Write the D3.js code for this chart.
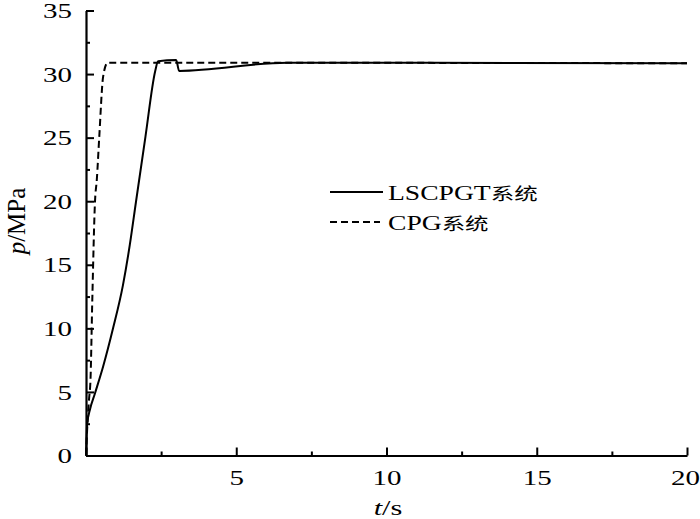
<!DOCTYPE html>
<html>
<head>
<meta charset="utf-8">
<script src="https://cdn.jsdelivr.net/npm/d3@7"></script>
<style>
  html, body { margin: 0; padding: 0; background: #fff; }
  svg { display: block; }
  text { font-family: "Liberation Serif", "Times New Roman", serif; fill: #000; }
</style>
</head>
<body>
<svg id="chart" width="700" height="519"></svg>
<script>
// ---- data ----
const lscpgtT = [0, 0.04, 0.13, 0.3, 0.57, 0.9, 1.23, 1.46, 1.66, 1.98, 2.3, 2.4, 3.0, 3.1, 6.7, 20];
const lscpgtP = [0, 2.5, 3.6, 4.9, 7.0, 10.0, 13.4, 16.6, 19.9, 25.1, 30.2, 31.0, 31.1, 30.25, 30.9, 30.85];
const cpgT = [0, 0.05, 0.1, 0.15, 0.21, 0.3, 0.36, 0.44, 0.57, 0.72, 20];
const cpgP = [0, 2.6, 4.4, 6.0, 12.3, 20.0, 21.7, 25.0, 29.8, 30.9, 30.85];
const xMajorTicks = [0, 5, 10, 15, 20];
const xMinorTicks = [2.5, 7.5, 12.5, 17.5];
const yMajorTicks = [0, 5, 10, 15, 20, 25, 30, 35];
const yMinorTicks = [2.5, 7.5, 12.5, 17.5, 22.5, 27.5, 32.5];
const seriesNames = ["LSCPGT", "CPG"];
const cjkSuffix = "系统";
const xTitle = ["t", "/s"];
const yTitle = ["p", "/MPa"];

// ---- drawing ----
const svg = d3.select("#chart");
svg.append("rect").attr("width", 700).attr("height", 519).attr("fill", "#fff");

const x = d3.scaleLinear().domain([0, 20]).range([86, 687]);
const y = d3.scaleLinear().domain([0, 35]).range([455.5, 10.5]);
const SX = 1.38;

// lines
const smoothLine = d3.line().x(d => x(d[0])).y(d => y(d[1])).curve(d3.curveMonotoneX);
const solidData = lscpgtT.map((t, i) => [t, lscpgtP[i]]);
const dashData = cpgT.map((t, i) => [t, cpgP[i]]);

svg.append("path").datum(dashData).attr("d", smoothLine)
  .attr("fill", "none").attr("stroke", "#000").attr("stroke-width", 2)
  .attr("stroke-dasharray", "7,4").attr("stroke-linejoin", "round");
svg.append("path").datum(solidData).attr("d", smoothLine)
  .attr("fill", "none").attr("stroke", "#000").attr("stroke-width", 2)
  .attr("stroke-linejoin", "round");

// axes
function styleAxis(g) {
  g.selectAll("path.domain").attr("stroke", "#000").attr("stroke-width", 2.2);
  g.selectAll(".tick line").attr("stroke", "#000").attr("stroke-width", 2);
}

const xAxisG = svg.append("g").attr("transform", `translate(0,${y(0)})`)
  .call(d3.axisBottom(x).tickValues(xMajorTicks).tickSize(-8).tickSizeOuter(0)
    .tickFormat(d => d === 0 ? "" : d3.format("d")(d)));
styleAxis(xAxisG);
xAxisG.selectAll("text").attr("font-size", 21).attr("font-family", "Liberation Serif")
  .attr("fill", "#000")
  .attr("y", null).attr("dy", null)
  .attr("transform", d => `translate(${d === 20 ? -2 : 0},29) scale(${SX},1)`);

const xMinorG = svg.append("g").attr("transform", `translate(0,${y(0)})`)
  .call(d3.axisBottom(x).tickValues(xMinorTicks).tickSize(-4).tickFormat(""));
xMinorG.select("path.domain").remove();
styleAxis(xMinorG);

const yAxisG = svg.append("g").attr("transform", `translate(${x(0)},0)`)
  .call(d3.axisLeft(y).tickValues(yMajorTicks).tickSize(-8).tickSizeOuter(0)
    .tickFormat(d3.format("d")));
styleAxis(yAxisG);
yAxisG.selectAll("text").attr("font-size", 21).attr("font-family", "Liberation Serif")
  .attr("fill", "#000")
  .attr("x", null).attr("dy", "0.34em")
  .attr("transform", `translate(-14,0) scale(${SX},1)`);

const yMinorG = svg.append("g").attr("transform", `translate(${x(0)},0)`)
  .call(d3.axisLeft(y).tickValues(yMinorTicks).tickSize(-4).tickFormat(""));
yMinorG.select("path.domain").remove();
styleAxis(yMinorG);

// axis titles
const xt = svg.append("text").attr("text-anchor", "middle").attr("font-size", 22)
  .attr("transform", `translate(388,515) scale(${SX},1)`);
xt.append("tspan").attr("font-style", "italic").text(xTitle[0]);
xt.append("tspan").text(xTitle[1]);

const yt = svg.append("text").attr("text-anchor", "middle").attr("font-size", 25)
  .attr("transform", "translate(25,221) rotate(-90)");
yt.append("tspan").attr("font-style", "italic").text(yTitle[0]);
yt.append("tspan").text(yTitle[1]);

// legend
const legendRows = [
  { name: seriesNames[0], dash: null, y: 192, x2: 383 },
  { name: seriesNames[1], dash: "7,4", y: 222, x2: 380 }
];
legendRows.forEach(r => {
  svg.append("line").attr("x1", 330).attr("x2", r.x2).attr("y1", r.y).attr("y2", r.y)
    .attr("stroke", "#000").attr("stroke-width", 2)
    .attr("stroke-dasharray", r.dash);
  const t = svg.append("text").attr("font-size", 20)
    .attr("transform", `translate(388,${r.y + 8}) scale(${SX},1)`);
  t.append("tspan").text(r.name);
  t.append("tspan").attr("font-family", "Noto Sans CJK SC").attr("font-size", 17).text(cjkSuffix);
});
</script>
</body>
</html>
